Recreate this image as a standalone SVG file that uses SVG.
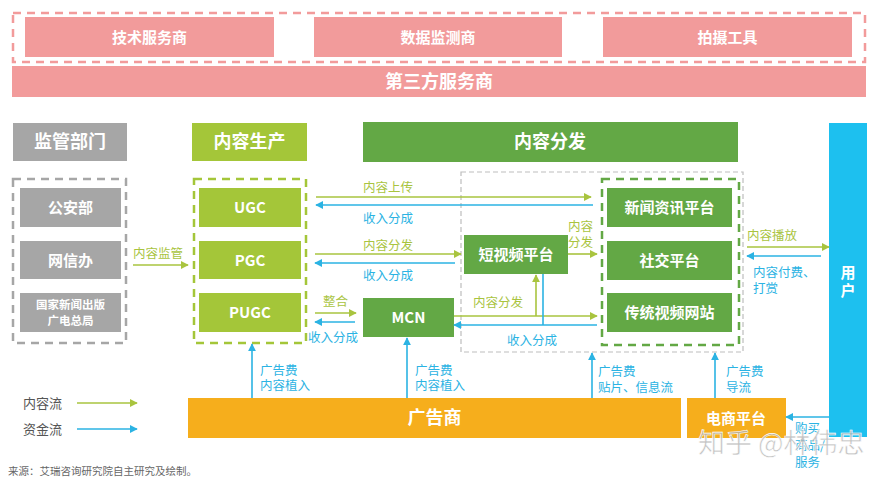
<svg xmlns="http://www.w3.org/2000/svg" width="882" height="479" viewBox="0 0 882 479">
<defs>
<style>
text{font-family:"Noto Sans CJK SC","Liberation Sans",sans-serif}
.pink{fill:#F29B9B}
.gray{fill:#A6A6A6}
.lg{fill:#A4C639}
.dg{fill:#63A845}
.org{fill:#F6AE1C}
.cyan{fill:#1DC0EF}
.wt{fill:#fff;font-weight:bold;text-anchor:middle}
.h{font-size:18px}
.b{font-size:15px}
.gl{fill:#A9C43F;font-size:12.5px}
.bl{fill:#2BB3E3;font-size:12.5px}
.ga{stroke:#A9C43F;stroke-width:1.6;fill:none;marker-end:url(#ag)}
.ba{stroke:#2BB3E3;stroke-width:1.6;fill:none;marker-end:url(#ab)}
.bline{stroke:#2BB3E3;stroke-width:1.6;fill:none}
</style>
<marker id="ag" viewBox="0 0 10 10" refX="9" refY="5" markerWidth="8" markerHeight="8" markerUnits="userSpaceOnUse" orient="auto"><path d="M0,0 L10,5 L0,10 z" fill="#A9C43F"/></marker>
<marker id="ab" viewBox="0 0 10 10" refX="9" refY="5" markerWidth="8" markerHeight="8" markerUnits="userSpaceOnUse" orient="auto"><path d="M0,0 L10,5 L0,10 z" fill="#2BB3E3"/></marker>
</defs>
<rect width="882" height="479" fill="#fff"/>

<g id="third-party-group">
<rect x="13" y="13" width="852" height="49" fill="none" stroke="#F29B9B" stroke-width="2.5" stroke-dasharray="8,6"/>
</g>
<g id="tech"><rect class="pink" x="25" y="17" width="249" height="40"/><text class="wt b" x="149.5" y="43">技术服务商</text></g>
<g id="data"><rect class="pink" x="314" y="17" width="248" height="40"/><text class="wt b" x="438" y="43">数据监测商</text></g>
<g id="shoot"><rect class="pink" x="603" y="17" width="249" height="40"/><text class="wt b" x="727.5" y="43">拍摄工具</text></g>
<g id="third"><rect class="pink" x="12" y="66" width="854" height="31"/><text class="wt h" x="439" y="88">第三方服务商</text></g>

<g id="reg-head"><rect class="gray" x="13" y="123" width="114" height="38"/><text class="wt h" x="70" y="148">监管部门</text></g>
<g id="reg-group"><rect x="13" y="179" width="113" height="164" fill="none" stroke="#A6A6A6" stroke-width="2.5" stroke-dasharray="8,6"/></g>
<g id="gaj"><rect class="gray" x="20" y="188" width="101" height="39"/><text class="wt b" x="70.5" y="213">公安部</text></g>
<g id="wxb"><rect class="gray" x="20" y="241" width="101" height="38"/><text class="wt b" x="70.5" y="266">网信办</text></g>
<g id="gj"><rect class="gray" x="20" y="293" width="101" height="39"/><text class="wt" x="70.5" y="309" font-size="11.5">国家新闻出版</text><text class="wt" x="70.5" y="325" font-size="11.5">广电总局</text></g>

<g id="prod-head"><rect class="lg" x="192" y="123" width="115" height="38"/><text class="wt h" x="249.5" y="148">内容生产</text></g>
<g id="prod-group"><rect x="194" y="179" width="112" height="164" fill="none" stroke="#A4C639" stroke-width="2.5" stroke-dasharray="8,6"/></g>
<g id="ugc"><rect class="lg" x="199" y="188" width="102" height="39"/><text class="wt b" x="250" y="213">UGC</text></g>
<g id="pgc"><rect class="lg" x="199" y="241" width="102" height="38"/><text class="wt b" x="250" y="266">PGC</text></g>
<g id="pugc"><rect class="lg" x="199" y="293" width="102" height="39"/><text class="wt b" x="250" y="318">PUGC</text></g>

<g id="dist-head"><rect class="dg" x="363" y="122" width="375" height="40"/><text class="wt" font-size="18" x="550" y="148">内容分发</text></g>
<g id="dist-group"><rect x="461" y="172" width="282" height="180" fill="none" stroke="#BDBDBD" stroke-width="1.2" stroke-dasharray="5,3"/></g>
<g id="platform-group"><rect x="602" y="179" width="137" height="166" fill="none" stroke="#63A845" stroke-width="2.5" stroke-dasharray="8,6"/></g>
<g id="news"><rect class="dg" x="607" y="188" width="125" height="39"/><text class="wt b" x="669.5" y="213">新闻资讯平台</text></g>
<g id="social"><rect class="dg" x="607" y="241" width="125" height="39"/><text class="wt b" x="669.5" y="266">社交平台</text></g>
<g id="video"><rect class="dg" x="607" y="293" width="125" height="39"/><text class="wt b" x="669.5" y="318">传统视频网站</text></g>
<g id="short"><rect class="dg" x="464" y="235" width="104" height="39"/><text class="wt b" x="516" y="260">短视频平台</text></g>
<g id="mcn"><rect class="dg" x="363" y="298" width="91" height="39"/><text class="wt b" x="408.5" y="323">MCN</text></g>

<g id="user"><rect class="cyan" x="829" y="123" width="38" height="314"/><text class="wt b" x="848" y="278">用</text><text class="wt b" x="848" y="296">户</text></g>
<g id="ad"><rect class="org" x="188" y="398" width="493" height="40"/><text class="wt h" x="434.5" y="424">广告商</text></g>
<g id="ec"><rect class="org" x="687" y="398" width="99" height="40"/><text class="wt b" x="736" y="424">电商平台</text></g>

<g id="connectors">
<line class="ga" x1="133" y1="265" x2="188" y2="265"/>
<line class="ga" x1="316" y1="197" x2="591" y2="197"/>
<line class="ba" x1="593" y1="205" x2="316" y2="205"/>
<line class="ga" x1="315" y1="254" x2="461" y2="254"/>
<line class="ba" x1="455" y1="263" x2="315" y2="263"/>
<line class="ga" x1="568" y1="254" x2="597" y2="254"/>
<line class="ga" x1="315" y1="313" x2="356" y2="313"/>
<line class="ba" x1="355" y1="322" x2="315" y2="322"/>
<line class="ga" x1="454" y1="316" x2="597" y2="316"/>
<line class="ba" x1="597" y1="325" x2="454" y2="325"/>
<line class="ga" x1="536" y1="316" x2="536" y2="275"/>
<line class="bline" x1="543" y1="274" x2="543" y2="325"/>
<line class="ga" x1="747" y1="247" x2="829" y2="247"/>
<line class="ba" x1="821" y1="256" x2="747" y2="256"/>
<line class="ba" x1="252" y1="398" x2="252" y2="344"/>
<line class="ba" x1="407" y1="398" x2="407" y2="338"/>
<line class="ba" x1="592" y1="398" x2="592" y2="353"/>
<line class="ba" x1="715" y1="398" x2="715" y2="353"/>
<line class="ba" x1="829" y1="417" x2="786" y2="417"/>
<line class="ga" x1="77" y1="403" x2="137" y2="403"/>
<line class="ba" x1="77" y1="429" x2="137" y2="429"/>
</g>

<g id="labels">
<text class="gl" x="133" y="258">内容监管</text>
<text class="gl" x="388" y="192" text-anchor="middle">内容上传</text>
<text class="bl" x="388" y="223" text-anchor="middle">收入分成</text>
<text class="gl" x="388" y="250" text-anchor="middle">内容分发</text>
<text class="bl" x="388" y="280" text-anchor="middle">收入分成</text>
<text class="gl" x="568" y="231">内容</text>
<text class="gl" x="568" y="247">分发</text>
<text class="gl" x="323" y="306">整合</text>
<text class="bl" x="308" y="342">收入分成</text>
<text class="gl" x="498" y="307" text-anchor="middle">内容分发</text>
<text class="bl" x="532" y="345" text-anchor="middle">收入分成</text>
<text class="gl" x="747" y="240">内容播放</text>
<text class="bl" x="753" y="277">内容付费、</text>
<text class="bl" x="753" y="293">打赏</text>
<text class="bl" x="260" y="375">广告费</text>
<text class="bl" x="260" y="390">内容植入</text>
<text class="bl" x="415" y="375">广告费</text>
<text class="bl" x="415" y="390">内容植入</text>
<text class="bl" x="598" y="376">广告费</text>
<text class="bl" x="598" y="392">贴片、信息流</text>
<text class="bl" x="726" y="376">广告费</text>
<text class="bl" x="726" y="392">导流</text>
<text class="bl" x="795" y="433">购买</text>
<text class="bl" x="795" y="450">商品/</text>
<text class="bl" x="795" y="467">服务</text>
<text x="23" y="408" font-size="13" fill="#555">内容流</text>
<text x="23" y="434" font-size="13" fill="#555">资金流</text>
<text x="8" y="475" font-size="10.5" fill="#666">来源：艾瑞咨询研究院自主研究及绘制。</text>
<text x="698" y="453" font-size="27" fill="#B4B4B4" fill-opacity="0.8" stroke="#fff" stroke-width="0.6">知乎 @林伟忠</text>
</g>
</svg>
